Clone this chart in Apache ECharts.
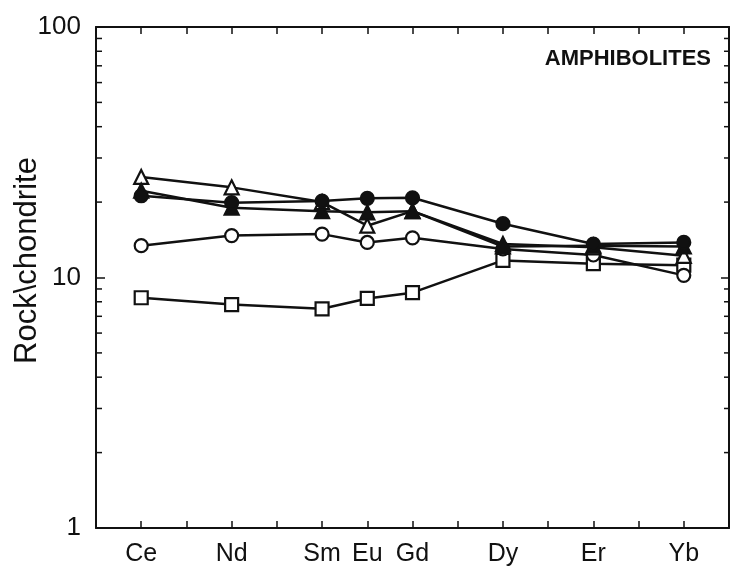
<!DOCTYPE html>
<html>
<head>
<meta charset="utf-8">
<script src="https://cdn.jsdelivr.net/npm/echarts@6/dist/echarts.min.js"></script>
<style>
html,body{margin:0;padding:0;background:#fff;}
#chart{width:733px;height:578px;}
</style>
</head>
<body>
<div id="chart"></div>
<script>
// Rare earth elements and their atomic numbers (x positions)
const elements = ['Ce', 'Nd', 'Sm', 'Eu', 'Gd', 'Dy', 'Er', 'Yb'];
const atomicNumbers = [58, 60, 62, 63, 64, 66, 68, 70];

// Rock / chondrite values per sample
const openTriangle   = [25.2, 22.9, 20.0, 16.1, 18.4, 13.6, 13.2, 12.2];
const filledCircle   = [21.2, 19.9, 20.2, 20.7, 20.8, 16.4, 13.6, 13.8];
const filledTriangle = [22.2, 19.0, 18.4, 18.2, 18.4, 13.3, 13.4, 13.3];
const openCircle     = [13.4, 14.7, 14.9, 13.8, 14.4, 13.0, 12.3, 10.2];
const openSquare     = [8.3, 7.8, 7.5, 8.25, 8.7, 11.7, 11.35, 11.2];

// Axis ticks
const yMajorTicks = [1, 10, 100];
const yMinorTicks = [2, 3, 4, 5, 6, 7, 8, 9, 20, 30, 40, 50, 60, 70, 80, 90];

const INK = '#111';
const FONT = '"Liberation Sans", Arial, sans-serif';

function pairs(vals) {
  return atomicNumbers.map((x, i) => [x, vals[i]]);
}

function lineSeries(name, vals, symbol, filled, size) {
  return {
    name: name,
    type: 'line',
    data: pairs(vals),
    symbol: symbol,
    symbolSize: size,
    showAllSymbol: true,
    lineStyle: { color: INK, width: 2.5 },
    itemStyle: { color: filled ? INK : '#fff', borderColor: INK, borderWidth: 2.2 },
    emphasis: { disabled: true },
    animation: false
  };
}

const chart = echarts.init(document.getElementById('chart'), null, { renderer: 'canvas' });

const labelMap = {};
atomicNumbers.forEach((n, i) => { labelMap[n] = elements[i]; });

const option = {
  backgroundColor: '#fff',
  animation: false,
  grid: { left: 96, right: 4, top: 27, bottom: 50, containLabel: false, outerBoundsMode: 'none' },
  xAxis: [
    {
      type: 'value', min: 57, max: 71, interval: 1, position: 'bottom',
      axisLine: { show: true, onZero: false, lineStyle: { color: INK, width: 2 } },
      axisTick: { show: true, inside: true, length: 7, lineStyle: { color: INK, width: 1.5 } },
      axisLabel: {
        show: true, margin: 14, color: INK, fontFamily: FONT, fontSize: 25,
        formatter: v => labelMap[v] || ''
      },
      splitLine: { show: false }
    },
    {
      type: 'value', min: 57, max: 71, interval: 1, position: 'top',
      axisLine: { show: true, onZero: false, lineStyle: { color: INK, width: 2 } },
      axisTick: { show: true, inside: true, length: 7, lineStyle: { color: INK, width: 1.5 } },
      axisLabel: { show: false },
      splitLine: { show: false }
    }
  ],
  yAxis: [
    {
      type: 'log', logBase: 10, min: 1, max: 100, position: 'left',
      name: 'Rock\\chondrite', nameLocation: 'middle', nameGap: 53, nameRotate: 90,
      nameMoveOverlap: false,
      nameTextStyle: { color: INK, fontFamily: FONT, fontSize: 31, padding: [0, 0, 0, 34] },
      axisLine: { show: true, onZero: false, lineStyle: { color: INK, width: 2 } },
      axisTick: { show: true, inside: true, length: 9, lineStyle: { color: INK, width: 1.5 } },
      axisLabel: { show: true, margin: 15, color: INK, fontFamily: FONT, fontSize: 26 },
      splitLine: { show: false }
    },
    {
      type: 'log', logBase: 10, min: 1, max: 100, position: 'right',
      axisLine: { show: true, onZero: false, lineStyle: { color: INK, width: 2 } },
      axisTick: { show: true, inside: true, length: 8, lineStyle: { color: INK, width: 1.5 } },
      axisLabel: { show: false },
      splitLine: { show: false }
    }
  ],
  graphic: [
    {
      type: 'text', right: 22, top: 48,
      style: { text: 'AMPHIBOLITES', fill: INK, font: 'bold 22px ' + FONT }
    }
  ],
  series: [
    {
      type: 'custom',
      xAxisIndex: 0, yAxisIndex: 0,
      data: yMinorTicks.map(v => [57, v]),
      silent: true,
      animation: false,
      renderItem: function (params, api) {
        const v = api.value(1);
        const pl = api.coord([57, v]);
        const pr = api.coord([71, v]);
        return {
          type: 'group',
          children: [
            { type: 'line', shape: { x1: pl[0], y1: pl[1], x2: pl[0] + 6, y2: pl[1] }, style: { stroke: INK, lineWidth: 1.5 } },
            { type: 'line', shape: { x1: pr[0], y1: pr[1], x2: pr[0] - 5, y2: pr[1] }, style: { stroke: INK, lineWidth: 1.5 } }
          ]
        };
      }
    },
    lineSeries('open square', openSquare, 'rect', false, 13),
    lineSeries('open circle', openCircle, 'circle', false, 13),
    lineSeries('open triangle', openTriangle, 'triangle', false, 14),
    lineSeries('filled triangle', filledTriangle, 'triangle', true, 14),
    lineSeries('filled circle', filledCircle, 'circle', true, 13)
  ]
};

chart.setOption(option);
</script>
</body>
</html>
